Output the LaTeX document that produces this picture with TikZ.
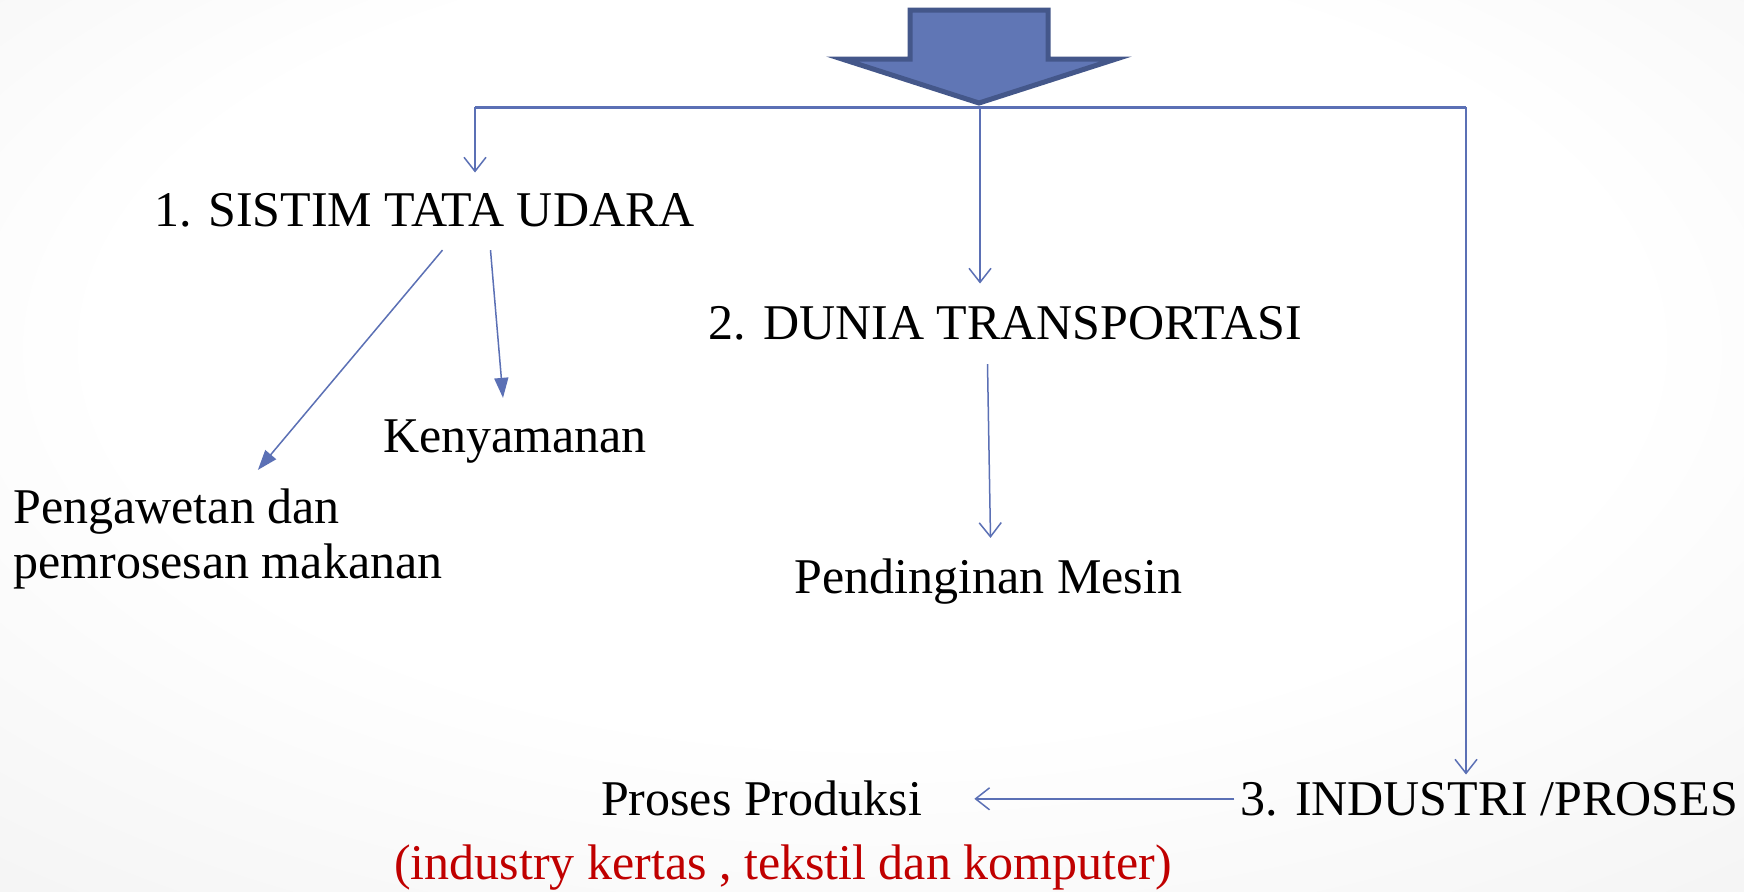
\documentclass[tikz,border=0pt]{standalone}
\usepackage{fontspec}
\setmainfont{Liberation Serif}
\usetikzlibrary{arrows.meta}
\definecolor{Garis}{HTML}{5B70B5}
\definecolor{Isi}{HTML}{6076B5}
\definecolor{Tepi}{HTML}{44578A}
\definecolor{Merah}{HTML}{C00000}
\pgfdeclareradialshading{latar}{\pgfpoint{0bp}{8bp}}{color(0bp)=(white); color(22bp)=(white); color(50bp)=(black!7); color(75bp)=(black!9)}

\tikzset{
  lbl/.style={inner sep=0pt, anchor=base, font=\fontsize{25}{27.5}\selectfont},
  tipis/.style={draw=Garis, line width=0.75pt, -{Straight Barb[length=7pt,width=11pt]}},
  penuh/.style={draw=Garis, line width=0.75pt, -{Triangle[length=10pt,width=7pt]}},
}

\begin{document}
\begin{tikzpicture}[x=0.5pt, y=-0.5pt]
    \shade[shading=latar] (0,0) rectangle (1744,891);
    \useasboundingbox (0,0) rectangle (1744,891);

    \node[lbl] (udara) at (424.5,226) {1. SISTIM TATA UDARA};
    \node[lbl] (trans) at (1005.5,339) {2. DUNIA TRANSPORTASI};
    \node[lbl] (nyaman) at (515,452) {Kenyamanan};
    \node[lbl, anchor=base west, align=left] (awet) at (13,578) {Pengawetan dan\\pemrosesan makanan};
    \node[lbl] (mesin) at (988.5,593) {Pendinginan Mesin};
    \node[lbl] (prod) at (761.5,815) {Proses Produksi};
    \node[lbl] (ind) at (1489.5,815) {3. INDUSTRI /PROSES};
    \node[lbl, text=Merah] (ket) at (783,879) {(industry kertas , tekstil dan komputer)};

    \coordinate (kiri) at (475,107);
    \coordinate (tengah) at (980,107);
    \coordinate (kanan) at (1466,107);

    \draw[Garis, line width=1.5pt] (kiri) -- (kanan);
    \draw[fill=Isi, draw=Tepi, line width=2.5pt, line join=miter]
      (910,10) -- (1048,10) -- (1048,59) -- (1116,59) -- (979,103) -- (842,59) -- (910,59) -- cycle;

    \draw[tipis, shorten >=10pt] (kiri) -- (kiri |- udara.north);
    \draw[tipis, shorten >=11pt] (tengah) -- (tengah |- trans.north);
    \draw[tipis, shorten >=3.5pt] (kanan) -- (kanan |- ind.north);
    \draw[penuh] ([xshift=33pt,yshift=-11.5pt]udara.south) -- ([xshift=-6pt,yshift=10.5pt]nyaman.north);
    \draw[penuh] ([xshift=9pt,yshift=-11.5pt]udara.south) -- ([xshift=15pt,yshift=9pt]awet.north);
    \draw[tipis] ([xshift=-9pt,yshift=-12pt]trans.south) -- ([xshift=1pt,yshift=10pt]mesin.north);
    \draw[tipis, shorten <=3pt, shorten >=26pt] (ind.west) -- (ind.west -| prod.east);
\end{tikzpicture}
\end{document}
